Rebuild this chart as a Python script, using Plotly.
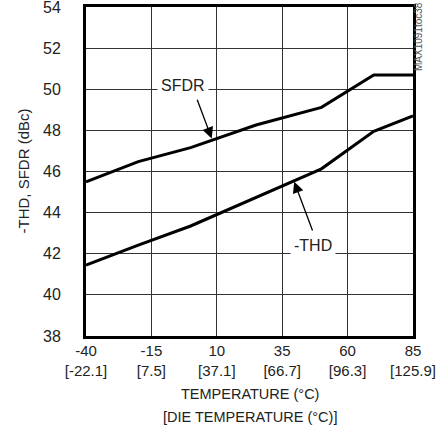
import plotly.graph_objects as go

temps = [-40, -20, 0, 25, 50, 70, 85]
sfdr = [45.5, 46.48, 47.16, 48.26, 49.12, 50.69, 50.69]
thd = [41.45, 42.42, 43.35, 44.75, 46.13, 47.95, 48.7]

x_ticks = [-40, -15, 10, 35, 60, 85]
die_ticks = ["-22.1", "7.5", "37.1", "66.7", "96.3", "125.9"]
x_ticktext = [f"{t}<br>[{d}]" for t, d in zip(x_ticks, die_ticks)]
y_ticks = [38, 40, 42, 44, 46, 48, 50, 52, 54]

FONT = "Liberation Sans Narrow, Arial Narrow, sans-serif"
TXT = "#222"

fig = go.Figure()
fig.add_trace(go.Scatter(x=temps, y=sfdr, mode="lines", line=dict(color="black", width=3), name="SFDR", showlegend=False))
fig.add_trace(go.Scatter(x=temps, y=thd, mode="lines", line=dict(color="black", width=3), name="-THD", showlegend=False))

fig.update_layout(
    width=438, height=425,
    margin=dict(l=86, r=25, t=7, b=89),
    paper_bgcolor="white", plot_bgcolor="white",
    font=dict(family=FONT, size=16, color=TXT),
    xaxis=dict(range=[-40, 85], tickvals=x_ticks, ticktext=x_ticktext,
               showgrid=True, gridcolor="#333", gridwidth=1,
               showline=True, linecolor="black", linewidth=3, mirror=True,
               ticks="", zeroline=False, tickfont=dict(size=15), automargin=False,
               ticklabelstandoff=-1, ticklabeloverflow="allow"),
    yaxis=dict(range=[38, 54], tickvals=y_ticks,
               showgrid=True, gridcolor="#333", gridwidth=1,
               showline=True, linecolor="black", linewidth=3, mirror=True,
               ticks="", zeroline=False, tickfont=dict(size=16), automargin=False,
               ticklabelstandoff=19, ticklabeloverflow="allow"),
)

# axis titles
fig.add_annotation(x=0, y=0.5, xref="paper", yref="paper", xshift=-63, xanchor="center", yanchor="middle",
                   text="-THD, SFDR (dBc)", textangle=-90, showarrow=False, font=dict(size=15, family=FONT, color=TXT))
fig.add_annotation(x=0.5, y=0, xref="paper", yref="paper", yshift=-58, xanchor="center", yanchor="middle",
                   text="TEMPERATURE (°C)", showarrow=False, font=dict(size=14.5, family=FONT, color=TXT))
fig.add_annotation(x=0.5, y=0, xref="paper", yref="paper", yshift=-80.5, xanchor="center", yanchor="middle",
                   text="[DIE TEMPERATURE (°C)]", showarrow=False, font=dict(size=14.5, family=FONT, color=TXT))

# labels
fig.add_annotation(x=-2.9, y=50.16, text="SFDR", showarrow=False, bgcolor="white",
                   borderpad=3, font=dict(size=16, family=FONT, color=TXT))
fig.add_annotation(x=46.8, y=42.42, text="-THD", showarrow=False, bgcolor="white",
                   borderpad=3, font=dict(size=16, family=FONT, color=TXT))
# arrows
fig.add_annotation(x=8.05, y=47.61, ax=2.3, ay=49.56, axref="x", ayref="y", xref="x", yref="y",
                   text="", showarrow=True, arrowhead=2, arrowsize=1.7, arrowwidth=1.3, arrowcolor="black")
fig.add_annotation(x=39.6, y=45.5, ax=46.8, ay=43.06, axref="x", ayref="y", xref="x", yref="y",
                   text="", showarrow=True, arrowhead=2, arrowsize=1.7, arrowwidth=1.3, arrowcolor="black")
# figure id
fig.add_annotation(x=1.0168, y=0.9103, xref="paper", yref="paper", xanchor="center", yanchor="middle",
                   text="MAX1091toc38", textangle=-90, showarrow=False,
                   font=dict(size=10, family=FONT, color="#555"))

fig.write_html("out.html", config={"displayModeBar": False},
               post_script="document.body.style.margin='0px';")
